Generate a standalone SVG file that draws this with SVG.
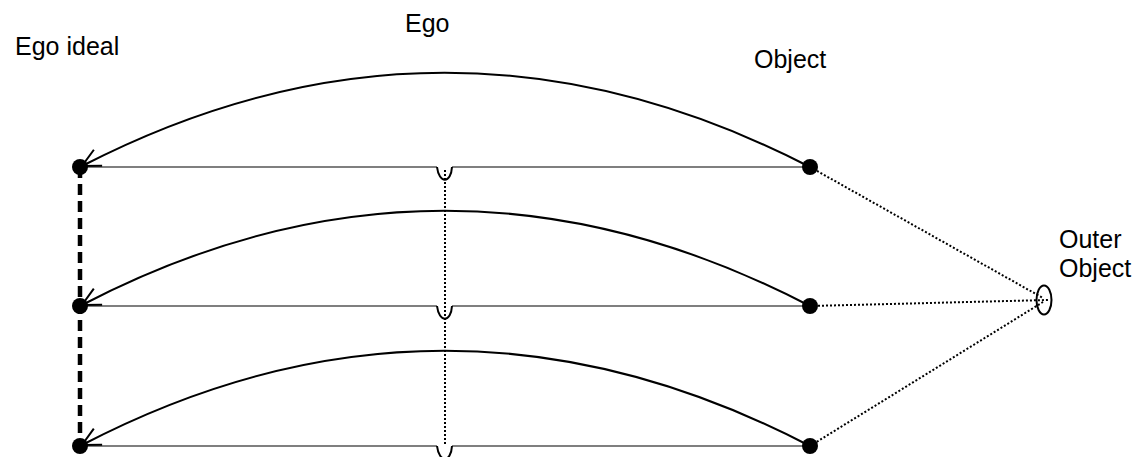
<svg xmlns="http://www.w3.org/2000/svg" width="1139" height="457" viewBox="0 0 1139 457">
<defs>
<style>
.lbl{font-family:"Liberation Sans",Arial,sans-serif;font-size:25px;fill:#000}
.base{stroke:#555;stroke-width:1.5;fill:none}
.u{stroke:#000;stroke-width:2;fill:none}
.arc{stroke:#000;stroke-width:2;fill:none;marker-end:url(#arr)}
.dot{stroke:#000;stroke-width:2;stroke-dasharray:2 2;fill:none}
.dash{stroke:#000;stroke-width:4.5;stroke-dasharray:11 6;fill:none}
.node{fill:#000}
</style>
<marker id="arr" markerUnits="userSpaceOnUse" markerWidth="24" markerHeight="24" refX="0" refY="0" viewBox="-22 -12 24 24" orient="auto">
<path d="M-18,-9 L0,0 L-18,9" fill="none" stroke="#000" stroke-width="2"/>
</marker>
</defs>
<rect width="1139" height="457" fill="#fff"/>
<g id="connectors">
<path class="dash" d="M80,167 L80,446"/>
<path class="dot" d="M445,170 L445,446"/>
<path class="base" d="M80,167 H437 M452,167 H810"/>
<path class="u" d="M437,167 C439,184 451,184 452,167"/>
<path class="base" d="M80,306 H437 M452,306 H810"/>
<path class="u" d="M437,306 C439,323 451,323 452,306"/>
<path class="base" d="M80,446 H437 M452,446 H810"/>
<path class="u" d="M437,446 C439,463 451,463 452,446"/>
<path class="arc" d="M810,167 Q445,-21 82,166"/>
<path class="arc" d="M810,306 Q445,116 82,305"/>
<path class="arc" d="M810,446 Q445,256 82,445"/>
<path class="dot" d="M810,167 L1043,298 M810,306 L1048,300 M810,446 L1043,302"/>
</g>
<g id="ego-ideal-1"><circle class="node" cx="80" cy="167" r="8"/></g>
<g id="ego-ideal-2"><circle class="node" cx="80" cy="306" r="8"/></g>
<g id="ego-ideal-3"><circle class="node" cx="80" cy="446" r="8"/></g>
<g id="object-1"><circle class="node" cx="810" cy="167" r="8"/></g>
<g id="object-2"><circle class="node" cx="810" cy="306" r="8"/></g>
<g id="object-3"><circle class="node" cx="810" cy="446" r="8"/></g>
<g id="outer-object"><ellipse cx="1044" cy="300" rx="7.5" ry="14.5" fill="none" stroke="#000" stroke-width="2"/></g>
<g id="labels">
<text class="lbl" x="15" y="55">Ego ideal</text>
<text class="lbl" x="405" y="32">Ego</text>
<text class="lbl" x="754" y="68">Object</text>
<text class="lbl" x="1059" y="248">Outer</text>
<text class="lbl" x="1059" y="277">Object</text>
</g>
</svg>
